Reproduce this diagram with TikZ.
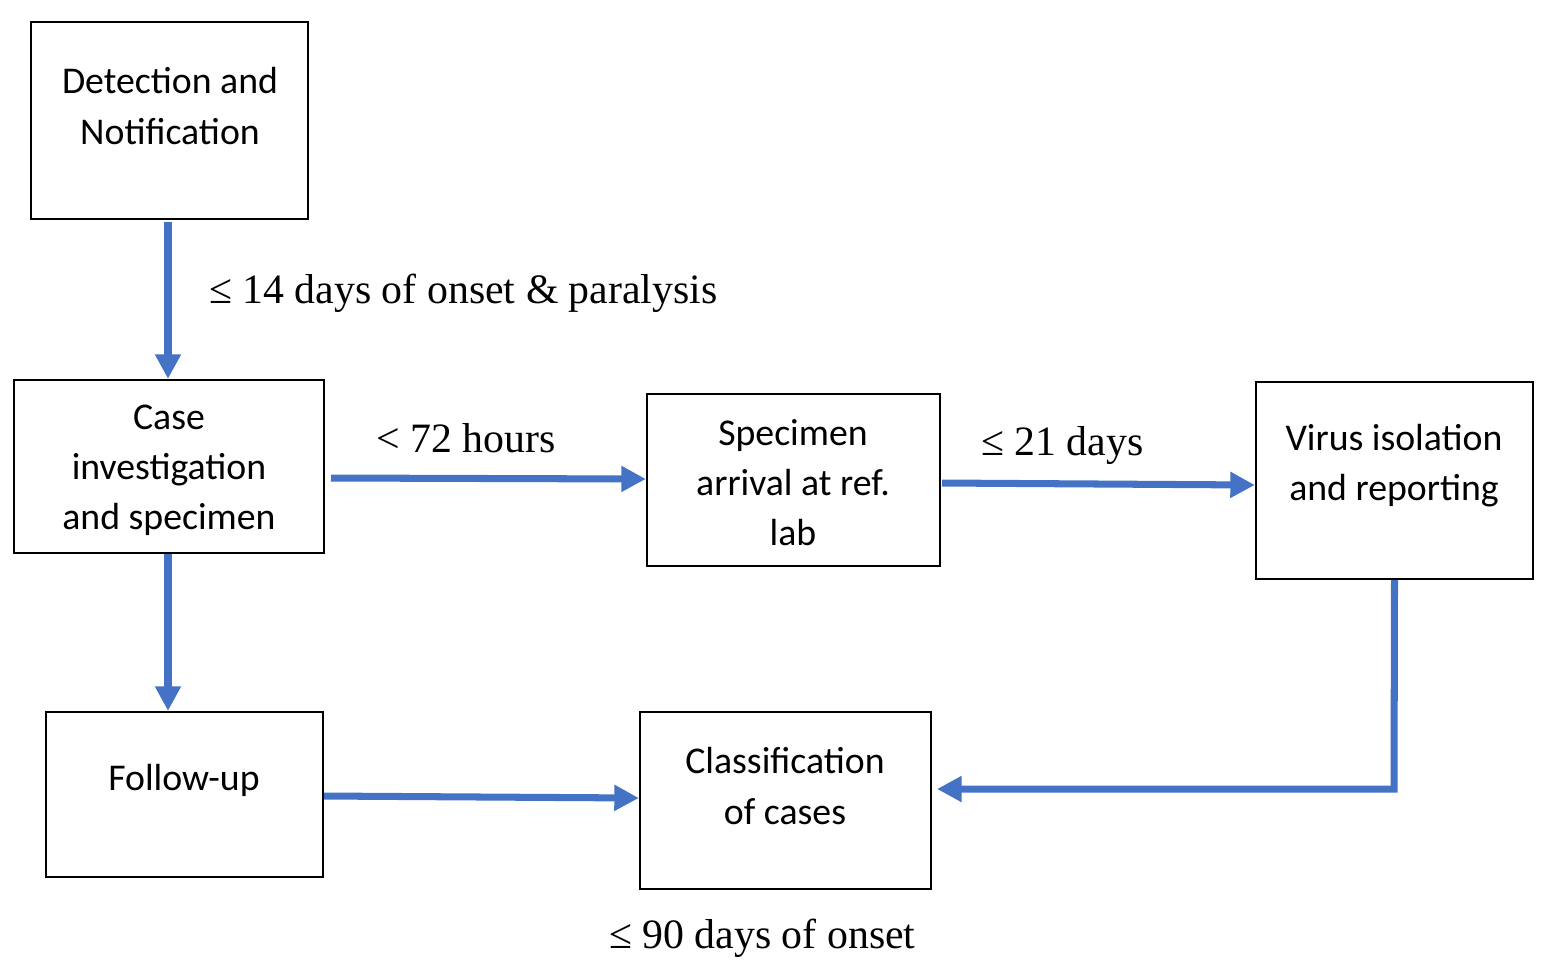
\documentclass[tikz,border=0pt]{standalone}
\usepackage{fontspec}
\setmainfont{Carlito}
\newfontfamily\tnr{Liberation Serif}
\usetikzlibrary{arrows.meta}
\definecolor{ab}{RGB}{68,114,196}
\begin{document}
\begin{tikzpicture}[x=0.02cm,y=-0.02cm,
 box/.style={draw,line width=1.3pt,inner sep=0},
 txt/.style={align=center,font=\fontsize{21.5}{28.5}\selectfont},
 lab/.style={font=\tnr\fontsize{23.8}{26}\selectfont,anchor=west},
 arr/.style={draw=ab,line width=4pt,-{Triangle[length=14pt,width=14pt]}}]
\useasboundingbox (0,0) rectangle (1550,975);
\node[box,minimum width=5.54cm,minimum height=3.94cm] (A) at (169.5,120.5) {};
\node[box,minimum width=6.2cm,minimum height=3.46cm] (B) at (169,466.5) {};
\node[box,minimum width=5.86cm,minimum height=3.44cm] (C) at (793.5,480) {};
\node[box,minimum width=5.54cm,minimum height=3.94cm] (D) at (1394.5,480.5) {};
\node[box,minimum width=5.54cm,minimum height=3.3cm] (E) at (184.5,794.5) {};
\node[box,minimum width=5.82cm,minimum height=3.54cm] (F) at (785.5,800.5) {};
\node[txt] (tA) at (170,106) {Detection and\\Notification};
\node[txt] (tB) at (169,470) {Case\\investigation\\and specimen};
\node[txt] (tC) at (793,483) {Specimen\\arrival at ref.\\lab};
\node[txt] (tD) at (1394,466) {Virus isolation\\and reporting};
\node[txt] (tE) at (184,780) {Follow-up};
\node[txt] (tF) at (785,786) {Classification\\of cases};
\node[lab] (l1) at (203,293) {≤ 14 days of onset \& paralysis};
\node[lab] (l2) at (370,438) {< 72 hours};
\node[lab] (l3) at (975,445) {≤ 21 days};
\node[lab] (l4) at (603,938) {≤ 90 days of onset};
\coordinate (d1) at (1394,789);
\draw[arr] (168,222) -- (B.north -| 168,0);
\draw[arr] (331,478) -- (C.west |- 0,479);
\draw[arr] (942,483) -- (D.west |- 0,485);
\draw[arr] (B.south -| 168,0) -- (E.north -| 168,0);
\draw[arr] (E.east |- 0,796) -- (F.west |- 0,798);
\draw[arr] (D.south) -- (d1) -- (937,789);
\end{tikzpicture}
\end{document}
